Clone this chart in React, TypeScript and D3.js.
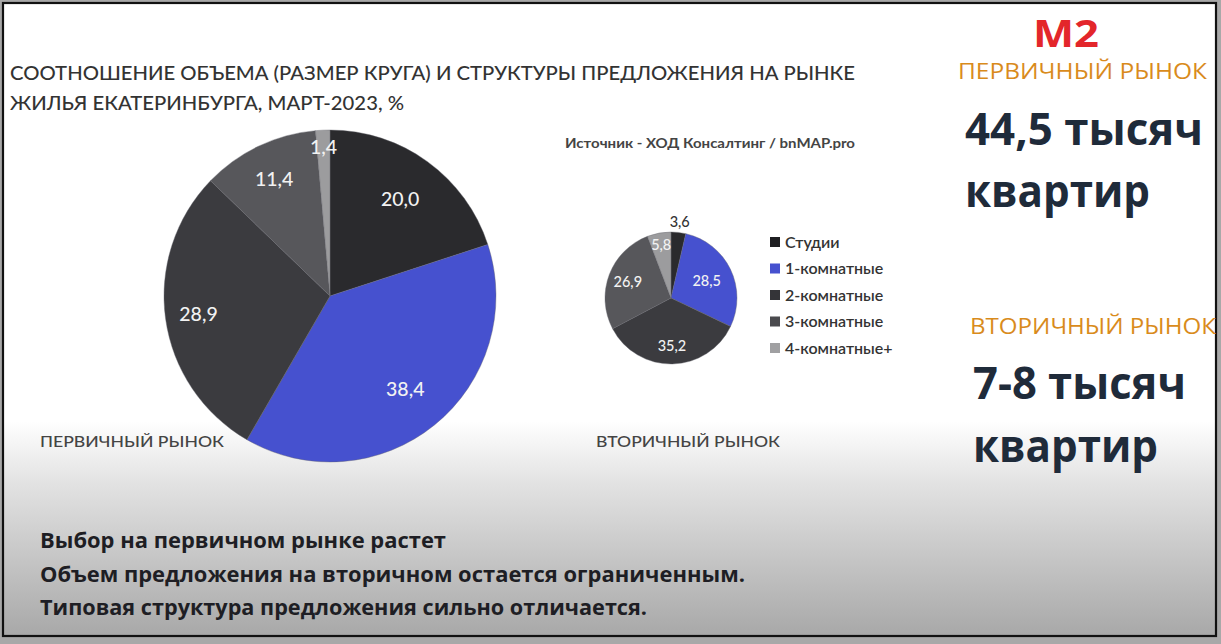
import React from "react";
import * as d3 from "d3";

const categories = ["Студии", "1-комнатные", "2-комнатные", "3-комнатные", "4-комнатные+"];
const primaryValues = [20.0, 38.4, 28.9, 11.4, 1.4];
const secondaryValues = [3.6, 28.5, 35.2, 26.9, 5.8];
const colors = ["#2a2a2d", "#4651cf", "#3b3b3f", "#57575b", "#9c9c9e"];
const legendColors = ["#1f1f22", "#4651cf", "#343438", "#4a4a4e", "#a0a0a2"];

const W = 1221;
const H = 644;

const fmt = (v: number) => v.toFixed(1).replace(".", ",");

function Pie({ cx, cy, r, values, labelR, fontSize, outsideIdx, outsideR }: any) {
  const pie = d3.pie<number>().sort(null).value((d) => d)(values);
  const arc = d3.arc<d3.PieArcDatum<number>>().innerRadius(0).outerRadius(r);
  return (
    <g transform={`translate(${cx},${cy})`}>
      {pie.map((p, i) => (
        <path key={i} d={arc(p) || ""} fill={colors[i]} stroke="#66666c" strokeWidth={0.4} />
      ))}
      {pie.map((p, i) => {
        const lr = (labelR as number[])[i] * r;
        const a = (p.startAngle + p.endAngle) / 2;
        const x = Math.sin(a) * lr;
        const y = -Math.cos(a) * lr;
        const out = outsideIdx === i;
        return (
          <text
            key={"l" + i}
            x={out ? Math.sin(a) * outsideR : x}
            y={out ? -Math.cos(a) * outsideR : y}
            dy="0.35em"
            textAnchor="middle"
            fontFamily="Lato, 'Open Sans', sans-serif"
            fontWeight={500}
            fontSize={fontSize}
            fill={out ? "#333" : "#f2f2f2"}
          >
            {fmt(values[i])}
          </text>
        );
      })}
    </g>
  );
}

export default function App() {
  return (
    <svg
      width={W}
      height={H}
      style={{ position: "fixed", left: 0, top: 0, display: "block" }}
      xmlns="http://www.w3.org/2000/svg"
    >
      <defs>
        <linearGradient id="bg" x1="0" y1="0" x2="0" y2="1">
          <stop offset="0" stopColor="#ffffff" />
          <stop offset="0.66" stopColor="#ffffff" />
          <stop offset="0.76" stopColor="#e2e2e2" />
          <stop offset="1" stopColor="#a8a8a8" />
        </linearGradient>
      </defs>
      <rect x={0} y={0} width={W} height={H} fill="#a8a8a8" />
      <rect x={3} y={3} width={1213} height={633} fill="url(#bg)" stroke="#111" strokeWidth={2.2} />

      {/* Title */}
      <text x={10} y={80} fontFamily="Lato, sans-serif" fontWeight={500} fontSize={18.5} fill="#333" textLength={845} lengthAdjust="spacingAndGlyphs">
        СООТНОШЕНИЕ ОБЪЕМА (РАЗМЕР КРУГА) И СТРУКТУРЫ ПРЕДЛОЖЕНИЯ НА РЫНКЕ
      </text>
      <text x={10} y={110} fontFamily="Lato, sans-serif" fontWeight={500} fontSize={18.5} fill="#333" textLength={394} lengthAdjust="spacingAndGlyphs">
        ЖИЛЬЯ ЕКАТЕРИНБУРГА, МАРТ-2023, %
      </text>
      <text x={565} y={148} fontFamily="Lato, sans-serif" fontWeight={700} fontSize={13.5} fill="#444" textLength={290} lengthAdjust="spacingAndGlyphs">
        Источник - ХОД Консалтинг  / bnMAP.pro
      </text>

      <Pie cx={330} cy={296} r={166} values={primaryValues} labelR={[0.72, 0.72, 0.8, 0.78, 0.9]} fontSize={19.5} outsideIdx={-1} outsideR={0} />
      <Pie cx={671} cy={298} r={66} values={secondaryValues} labelR={[1.1, 0.6, 0.72, 0.7, 0.82]} fontSize={14.5} outsideIdx={0} outsideR={77} />

      {/* Legend */}
      {categories.map((c, i) => (
        <g key={c} transform={`translate(770, ${242 + i * 26.5})`}>
          <rect x={0} y={-5} width={10} height={10} fill={legendColors[i]} />
          <text x={15} y={0} dy="0.35em" fontFamily="Lato, sans-serif" fontWeight={600} fontSize={16} fill="#333">
            {c}
          </text>
        </g>
      ))}

      <text x={40} y={447} fontFamily="Lato, sans-serif" fontWeight={500} fontSize={15.5} fill="#444" textLength={184} lengthAdjust="spacingAndGlyphs">
        ПЕРВИЧНЫЙ РЫНОК
      </text>
      <text x={596} y={447} fontFamily="Lato, sans-serif" fontWeight={500} fontSize={15.5} fill="#444" textLength={184} lengthAdjust="spacingAndGlyphs">
        ВТОРИЧНЫЙ РЫНОК
      </text>

      {/* Right panel */}
      <text x={1033} y={47} fontFamily="'Open Sans', sans-serif" fontWeight={700} fontSize={38} fill="#e3262b" textLength={66} lengthAdjust="spacingAndGlyphs">
        M2
      </text>
      <text x={958} y={79} fontFamily="'Open Sans', sans-serif" fontSize={22} fill="#d98b1c" textLength={249} lengthAdjust="spacingAndGlyphs">
        ПЕРВИЧНЫЙ РЫНОК
      </text>
      <text x={965} y={145} fontFamily="'Open Sans', sans-serif" fontWeight={700} fontSize={45} fill="#1f2b3a" textLength={238} lengthAdjust="spacingAndGlyphs">
        44,5 тысяч
      </text>
      <text x={965} y={207} fontFamily="'Open Sans', sans-serif" fontWeight={700} fontSize={45} fill="#1f2b3a" textLength={185} lengthAdjust="spacingAndGlyphs">
        квартир
      </text>
      <text x={970} y={334} fontFamily="'Open Sans', sans-serif" fontSize={22} fill="#d98b1c" textLength={246} lengthAdjust="spacingAndGlyphs">
        ВТОРИЧНЫЙ РЫНОК
      </text>
      <text x={973} y={399} fontFamily="'Open Sans', sans-serif" fontWeight={700} fontSize={45} fill="#1f2b3a" textLength={213} lengthAdjust="spacingAndGlyphs">
        7-8 тысяч
      </text>
      <text x={973} y={462} fontFamily="'Open Sans', sans-serif" fontWeight={700} fontSize={45} fill="#1f2b3a" textLength={185} lengthAdjust="spacingAndGlyphs">
        квартир
      </text>

      {/* Bottom notes */}
      <text x={40} y={548} fontFamily="'Open Sans', sans-serif" fontWeight={700} fontSize={21} fill="#1e1e24" textLength={406} lengthAdjust="spacingAndGlyphs">
        Выбор на первичном рынке растет
      </text>
      <text x={40} y={582} fontFamily="'Open Sans', sans-serif" fontWeight={700} fontSize={21} fill="#1e1e24" textLength={705} lengthAdjust="spacingAndGlyphs">
        Объем предложения на вторичном остается ограниченным.
      </text>
      <text x={40} y={615} fontFamily="'Open Sans', sans-serif" fontWeight={700} fontSize={21} fill="#1e1e24" textLength={607} lengthAdjust="spacingAndGlyphs">
        Типовая структура предложения сильно отличается.
      </text>
    </svg>
  );
}
